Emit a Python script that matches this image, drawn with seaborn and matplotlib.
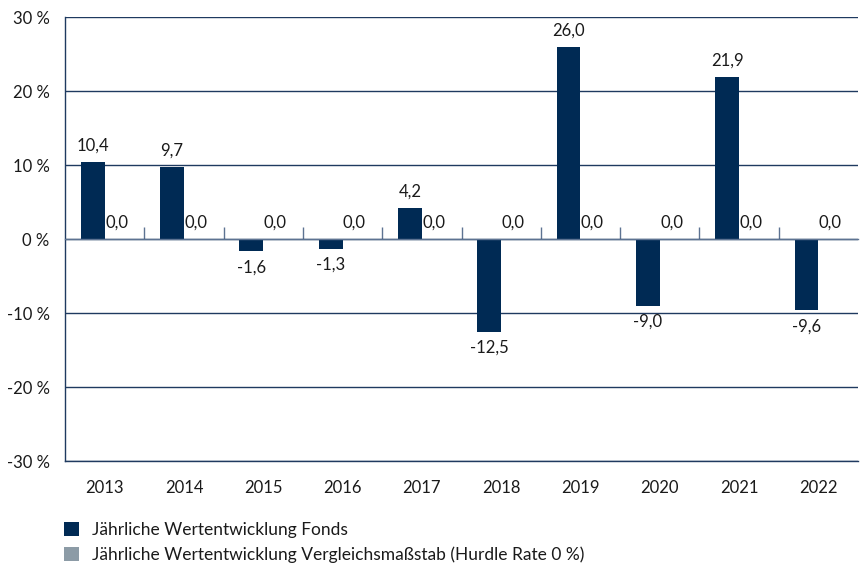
import matplotlib
matplotlib.use("Agg")
import matplotlib.pyplot as plt
import seaborn as sns
import pandas as pd
import numpy as np

years = ["2013", "2014", "2015", "2016", "2017", "2018", "2019", "2020", "2021", "2022"]
fonds = [10.4, 9.7, -1.6, -1.3, 4.2, -12.5, 26.0, -9.0, 21.9, -9.6]
hurdle = [0.0, 0.0, 0.0, 0.0, 0.0, 0.0, 0.0, 0.0, 0.0, 0.0]
series_names = ["Jährliche Wertentwicklung Fonds",
                "Jährliche Wertentwicklung Vergleichsmaßstab (Hurdle Rate 0 %)"]
yticks = [-30, -20, -10, 0, 10, 20, 30]

NAVY = "#002a54"
GREY = "#8c9ba6"
GRID = "#1f3a60"
TEXT = "#1a1a1a"
FS = 12
LFS = 12.5

sns.set_theme(style="white")
plt.rcParams["font.family"] = ["Lato", "DejaVu Sans"]
plt.rcParams["axes.unicode_minus"] = False

df = pd.DataFrame({
    "Jahr": years * 2,
    "Wert": fonds + hurdle,
    "Serie": [series_names[0]] * len(years) + [series_names[1]] * len(years),
})

fig = plt.figure(figsize=(8.6, 5.68), dpi=100)
ax = fig.add_axes([65 / 860, 107 / 568, 793 / 860, 444 / 568])

sns.barplot(data=df, x="Jahr", y="Wert", hue="Serie", palette=[NAVY, GREY],
            width=0.6, gap=0, saturation=1, ax=ax, errorbar=None, zorder=3,
            linewidth=0)

ax.set_ylim(-30, 30)
ax.set_xlim(-0.5, len(years) - 0.5)
ax.set_yticks(yticks)
ax.set_yticklabels([f"{v} %" for v in yticks])
ax.yaxis.grid(True, color=GRID, linewidth=1.0)
ax.set_axisbelow(True)
ax.set_xlabel("")
ax.set_ylabel("")

ax.spines["right"].set_visible(False)
ax.spines["left"].set_color(GRID)
ax.spines["bottom"].set_color(GRID)
ax.spines["left"].set_linewidth(1.0)
ax.spines["bottom"].set_linewidth(1.0)
ax.spines["top"].set_position(("data", 0))
ax.spines["top"].set_color("#5d7392")
ax.spines["top"].set_linewidth(1.0)
ax.spines["top"].set_zorder(4)

ax.tick_params(axis="x", which="major", bottom=True, top=False, length=0,
               labelsize=FS, colors=TEXT, pad=14)
ax.tick_params(axis="y", length=0, labelsize=FS, colors=TEXT, pad=11)
ax.set_xticks(np.arange(0.5, len(years) - 0.5, 1.0), minor=True)
ax.tick_params(axis="x", which="minor", top=True, bottom=False, direction="out",
               length=9, width=1.0, color="#5d7392")

for cont, vals in zip(ax.containers, [fonds, hurdle]):
    labels = [f"{v:.1f}".replace(".", ",") for v in vals]
    ax.bar_label(cont, labels=labels, padding=6, fontsize=FS, color=TEXT)

hl = 15 / (LFS * 100 / 72)
sns.move_legend(ax, "upper left", bbox_to_anchor=(-1 / 793, -61 / 444),
                frameon=False, title=None, fontsize=LFS,
                handlelength=hl, handleheight=hl, handletextpad=0.75,
                labelspacing=0.47, borderaxespad=0, borderpad=0)
for t in ax.get_legend().get_texts():
    t.set_color(TEXT)

fig.savefig("out.png", dpi=100)
